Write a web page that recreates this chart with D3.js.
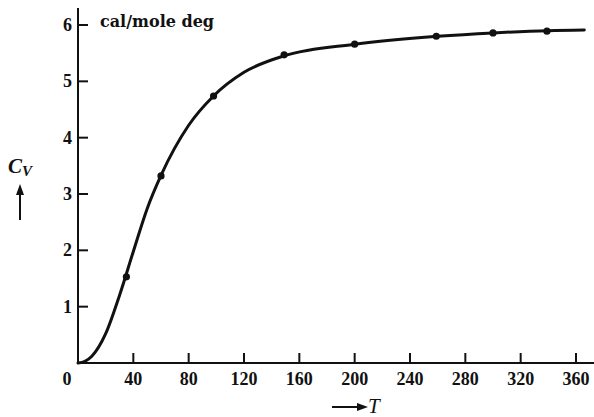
<!DOCTYPE html>
<html>
<head>
<meta charset="utf-8">
<script src="https://d3js.org/d3.v7.min.js"></script>
<style>
  body { margin: 0; background: #fff; }
  svg { display: block; }
</style>
</head>
<body>
<svg width="594" height="417"></svg>
<script>
// measured points (T in K, Cv in cal/mole deg)
var pointT = [35, 60, 98, 149, 200, 259, 300, 339];
var pointCv = [1.53, 3.32, 4.74, 5.47, 5.66, 5.8, 5.86, 5.89];

// smooth curve
var curveT = [0, 5, 10, 20, 30, 40, 50, 60, 80, 98, 120, 150, 200, 260, 300, 340, 366];
var curveCv = [0, 0.03, 0.12, 0.52, 1.2, 1.98, 2.74, 3.33, 4.22, 4.74, 5.16, 5.46, 5.66, 5.8, 5.86, 5.9, 5.91];

var xTicks = [0, 40, 80, 120, 160, 200, 240, 280, 320, 360];
var yTicks = [1, 2, 3, 4, 5, 6];

var svg = d3.select("svg"),
  width = +svg.attr("width"),
  height = +svg.attr("height");

var x = d3.scaleLinear().domain([0, 360]).range([78, 576]);
var y = d3.scaleLinear().domain([0, 6]).range([363, 25]);

var ink = "#111";
var tickFont = "'Liberation Serif', serif";

// axes
svg.append("line")
  .attr("x1", x(0)).attr("y1", y(0))
  .attr("x2", 594).attr("y2", y(0))
  .attr("stroke", ink).attr("stroke-width", 2);
svg.append("line")
  .attr("x1", x(0)).attr("y1", y(0) + 1)
  .attr("x2", x(0)).attr("y2", 8)
  .attr("stroke", ink).attr("stroke-width", 2);

// x ticks
svg.append("g")
  .selectAll("line")
  .data(xTicks.filter(function (d) { return d > 0; }))
  .enter()
  .append("line")
  .attr("x1", function (d) { return x(d); })
  .attr("x2", function (d) { return x(d); })
  .attr("y1", y(0))
  .attr("y2", y(0) - 10)
  .attr("stroke", ink)
  .attr("stroke-width", 2);

svg.append("g")
  .selectAll("text")
  .data(xTicks)
  .enter()
  .append("text")
  .attr("x", function (d) { return d === 0 ? 67 : x(d); })
  .attr("y", 385)
  .attr("text-anchor", "middle")
  .style("font-family", tickFont)
  .style("font-weight", "bold")
  .style("font-size", "18px")
  .attr("fill", ink)
  .text(function (d) { return d; });

// y ticks
svg.append("g")
  .selectAll("line")
  .data(yTicks)
  .enter()
  .append("line")
  .attr("x1", x(0))
  .attr("x2", x(0) + 10)
  .attr("y1", function (d) { return y(d); })
  .attr("y2", function (d) { return y(d); })
  .attr("stroke", ink)
  .attr("stroke-width", 2);

svg.append("g")
  .selectAll("text")
  .data(yTicks)
  .enter()
  .append("text")
  .attr("x", 72)
  .attr("y", function (d) { return y(d) + 6; })
  .attr("text-anchor", "end")
  .style("font-family", tickFont)
  .style("font-weight", "bold")
  .style("font-size", "18px")
  .attr("fill", ink)
  .text(function (d) { return d; });

// unit label
svg.append("text")
  .attr("x", 100)
  .attr("y", 27)
  .style("font-family", "'DejaVu Serif', serif")
  .style("font-weight", "bold")
  .style("font-size", "16px")
  .attr("fill", ink)
  .text("cal/mole deg");

// curve
var line = d3.line()
  .x(function (d, i) { return x(curveT[i]); })
  .y(function (d) { return y(d); })
  .curve(d3.curveMonotoneX);

svg.append("path")
  .datum(curveCv)
  .attr("d", line)
  .attr("fill", "none")
  .attr("stroke", ink)
  .attr("stroke-width", 3)
  .attr("stroke-linecap", "round");

svg.append("g")
  .selectAll("circle")
  .data(pointCv)
  .enter()
  .append("circle")
  .attr("cx", function (d, i) { return x(pointT[i]); })
  .attr("cy", function (d) { return y(d); })
  .attr("r", 3.6)
  .attr("fill", ink);

// C_V label with up arrow
var cv = svg.append("text")
  .attr("x", 8)
  .attr("y", 173)
  .style("font-family", tickFont)
  .style("font-style", "italic")
  .style("font-weight", "bold")
  .style("font-size", "21px")
  .attr("fill", ink);
cv.append("tspan").text("C");
cv.append("tspan")
  .attr("dy", 3)
  .style("font-size", "15px")
  .text("V");

svg.append("line")
  .attr("x1", 20).attr("y1", 220)
  .attr("x2", 20).attr("y2", 192)
  .attr("stroke", ink).attr("stroke-width", 2);
svg.append("path")
  .attr("d", "M20,184 L16,195 L24,195 Z")
  .attr("fill", ink);

// T label with right arrow
svg.append("line")
  .attr("x1", 332).attr("y1", 407)
  .attr("x2", 360).attr("y2", 407)
  .attr("stroke", ink).attr("stroke-width", 2);
svg.append("path")
  .attr("d", "M368,407 L357,403 L357,411 Z")
  .attr("fill", ink);
svg.append("text")
  .attr("x", 368)
  .attr("y", 413)
  .style("font-family", tickFont)
  .style("font-style", "italic")
  .style("font-size", "21px")
  .attr("fill", ink)
  .text("T");
</script>
</body>
</html>
